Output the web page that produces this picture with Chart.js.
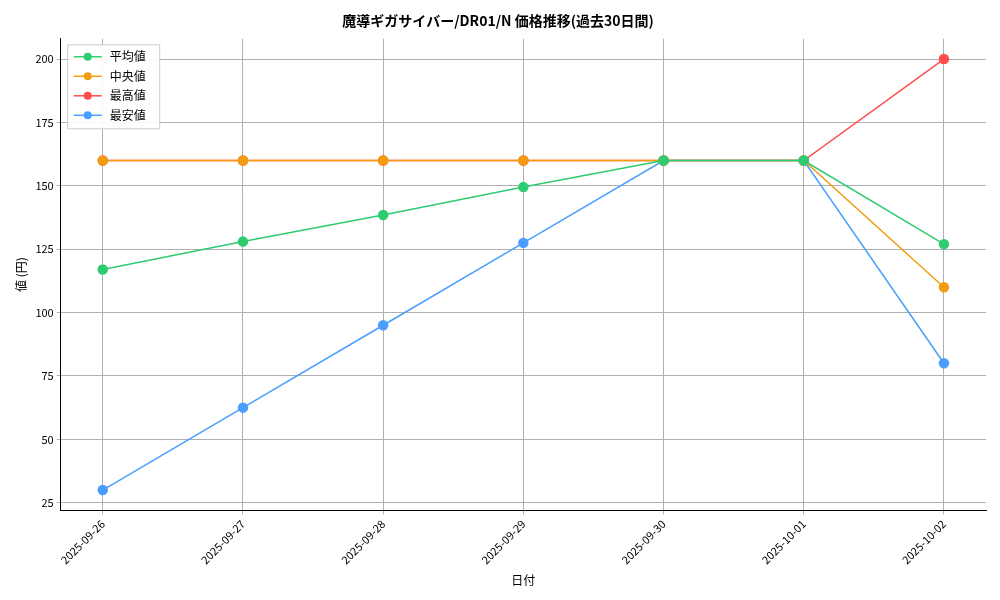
<!DOCTYPE html>
<html><head><meta charset="utf-8">
<script src="https://cdn.jsdelivr.net/npm/chart.js@4"></script>
<style>body{margin:0;background:#fff}</style>
</head><body><canvas id="c" width="1000" height="600" style="width:1000px;height:600px"></canvas>
<script>
const dates=["2025-09-26","2025-09-27","2025-09-28","2025-09-29","2025-09-30","2025-10-01","2025-10-02"];
const avgVals=[117,128,138.5,149.5,160,160,127];
const medVals=[160,160,160,160,160,160,110];
const maxVals=[160,160,160,160,160,160,200];
const minVals=[30,62.5,95,127.5,160,160,80];
const yTicks=[25,50,75,100,125,150,175,200];
const F='"Noto Sans CJK JP", sans-serif';
const series=[["平均値",avgVals,"#2ecc71"],["中央値",medVals,"#f39c12"],["最高値",maxVals,"#ff4d4d"],["最安値",minVals,"#4a9eff"]];
const legendPlugin={id:'lg',afterDraw(ch){const c=ch.ctx,a=ch.chartArea;const x0=a.left+7,y0=a.top+6;
c.save();c.fillStyle='rgba(255,255,255,0.9)';c.strokeStyle='#ccc';c.lineWidth=1;c.beginPath();c.rect(x0,y0,92,84);c.fill();c.stroke();
c.font='12px '+F;c.textBaseline='middle';
series.forEach((s,i)=>{const y=y0+12+i*19.5;c.strokeStyle=s[2];c.lineWidth=1.5;c.beginPath();c.moveTo(x0+6,y);c.lineTo(x0+34,y);c.stroke();
c.fillStyle=s[2];c.beginPath();c.arc(x0+20,y,4,0,7);c.fill();c.fillStyle='#000';c.fillText(s[0],x0+42,y);});c.restore();}};
new Chart(document.getElementById('c'),{type:'line',
data:{datasets:series.map(s=>({label:s[0],data:s[1].map((v,i)=>({x:i,y:v})),borderColor:s[2],backgroundColor:s[2],borderWidth:1.5,pointRadius:4.5,pointHoverRadius:4.5}))},
options:{responsive:false,animation:false,devicePixelRatio:1,layout:{padding:{left:10,right:14,top:4,bottom:8}},
plugins:{legend:{display:false},tooltip:{enabled:false},title:{display:true,text:'魔導ギガサイバー/DR01/N 価格推移(過去30日間)',font:{family:F,size:14},color:'#000',padding:{top:8,bottom:10}}},
scales:{x:{type:'linear',min:-0.3,max:6.3,afterBuildTicks:ax=>{ax.ticks=dates.map((d,i)=>({value:i}))},
ticks:{callback:(v)=>dates[v],maxRotation:45,minRotation:45,color:'#000',font:{family:F,size:11}},
grid:{color:'#b0b0b0',tickLength:4},border:{color:'#000'},
title:{display:true,text:'日付',font:{family:F,size:12},color:'#000'}},
y:{min:22,max:208,afterBuildTicks:ax=>{ax.ticks=yTicks.map(v=>({value:v}))},ticks:{color:'#000',font:{family:F,size:11}},
grid:{color:'#b0b0b0',tickLength:4},border:{color:'#000'},
title:{display:true,text:'値 (円)',font:{family:F,size:12},color:'#000'}}}},
plugins:[legendPlugin]});
</script></body></html>
